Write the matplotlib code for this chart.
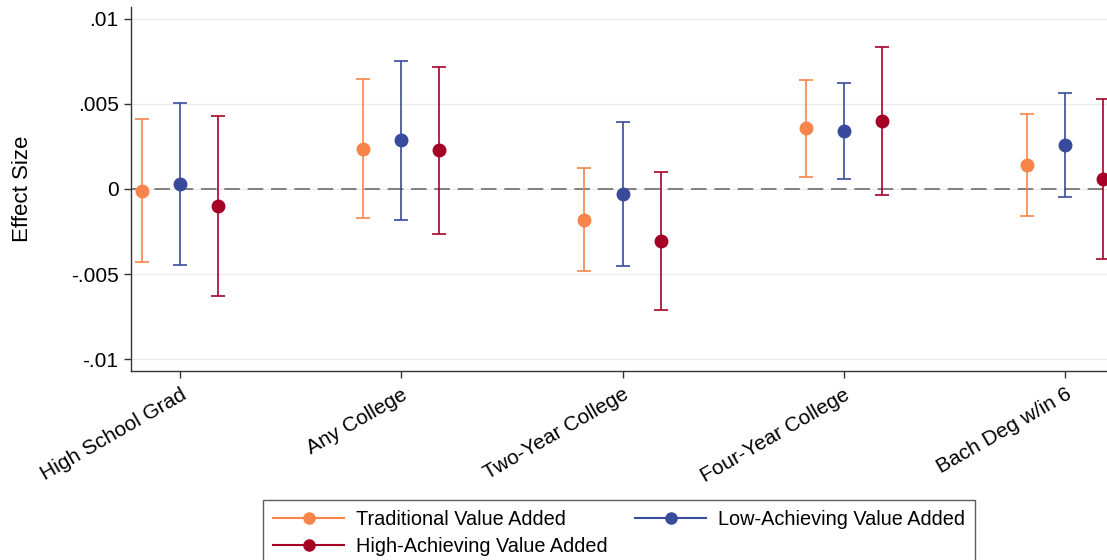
import numpy as np
import matplotlib.pyplot as plt
from matplotlib.lines import Line2D

plt.rcParams['font.family'] = ['Liberation Sans', 'DejaVu Sans']

# outcomes along the x axis
outcomes = ['High School Grad', 'Any College', 'Two-Year College',
            'Four-Year College', 'Bach Deg w/in 6']

# point estimates and 95% CI bounds per value-added measure
trad_est = [-0.0001, 0.00237, -0.0018, 0.00357, 0.00143]
trad_lo = [-0.0043, -0.00173, -0.0048, 0.00072, -0.00157]
trad_hi = [0.00414, 0.00647, 0.00122, 0.00641, 0.00443]

low_est = [0.00031, 0.00288, -0.00027, 0.00343, 0.00257]
low_lo = [-0.00449, -0.0018, -0.00451, 0.00061, -0.00047]
low_hi = [0.00508, 0.00755, 0.00394, 0.00625, 0.00563]

high_est = [-0.00098, 0.00228, -0.00306, 0.004, 0.00057]
high_lo = [-0.00627, -0.00263, -0.00712, -0.00037, -0.00414]
high_hi = [0.00431, 0.0072, 0.00098, 0.00837, 0.00529]

yticks = [-0.01, -0.005, 0, 0.005, 0.01]
ytick_labels = ['-.01', '-.005', '0', '.005', '.01']

series = [
    ('Traditional Value Added', trad_est, trad_lo, trad_hi, '#F7844B', -0.172),
    ('Low-Achieving Value Added', low_est, low_lo, low_hi, '#384A9B', 0.0),
    ('High-Achieving Value Added', high_est, high_lo, high_hi, '#A50026', 0.172),
]

fig = plt.figure(figsize=(11.07, 5.6), dpi=100)
ax = fig.add_axes([131 / 1107, 1 - 371 / 560, 1 - 131 / 1107, (371 - 7) / 560])

x = np.arange(1, len(outcomes) + 1)

# light horizontal grid and zero reference line
for yv in yticks:
    ax.axhline(yv, color='#EBEBEB', lw=1.0, zorder=0)
ax.axhline(0, color='#808080', lw=1.4, ls=(0, (8, 4)), zorder=1)

handles = {}
for name, est, lo, hi, col, off in series:
    est = np.array(est)
    err = np.vstack([est - np.array(lo), np.array(hi) - est])
    ax.errorbar(x + off, est, yerr=err, fmt='none', ecolor=col, elinewidth=1.4,
                capsize=5, capthick=1.4, alpha=0.85, zorder=2, clip_on=False)
    ax.plot(x + off, est, 'o', color=col, ms=9, zorder=3, clip_on=False)
    handles[name] = Line2D([], [], color=col, lw=1.5, marker='o', ms=8)

ax.set_xlim(0.778, 5.19)
ax.set_ylim(-0.0107, 0.0107)
ax.set_yticks(yticks)
ax.set_yticklabels(ytick_labels, fontsize=15)
ax.set_xticks(x)
ax.set_xticklabels(outcomes, rotation=30, ha='right', rotation_mode='anchor',
                   fontsize=15)
ax.tick_params(axis='both', length=5, width=1, color='#333333', pad=4)
ax.tick_params(axis='x', pad=5)
ax.set_ylabel('Effect Size', fontsize=16, labelpad=27)

for side in ['top', 'right']:
    ax.spines[side].set_visible(False)
for side in ['left', 'bottom']:
    ax.spines[side].set_color('#333333')
    ax.spines[side].set_linewidth(1.0)

order = ['Traditional Value Added', 'High-Achieving Value Added',
         'Low-Achieving Value Added']
leg = fig.legend([handles[k] for k in order], order, ncol=2,
                 loc='upper left', bbox_to_anchor=(263 / 1107, 1 - 500 / 560),
                 fontsize=14.3, frameon=True, fancybox=False, edgecolor='#333333',
                 handlelength=3.6, handletextpad=0.6, columnspacing=1.35,
                 labelspacing=0.4, borderpad=0.5, borderaxespad=0)
leg.get_frame().set_linewidth(1.0)

fig.savefig('out.png', dpi=100)
